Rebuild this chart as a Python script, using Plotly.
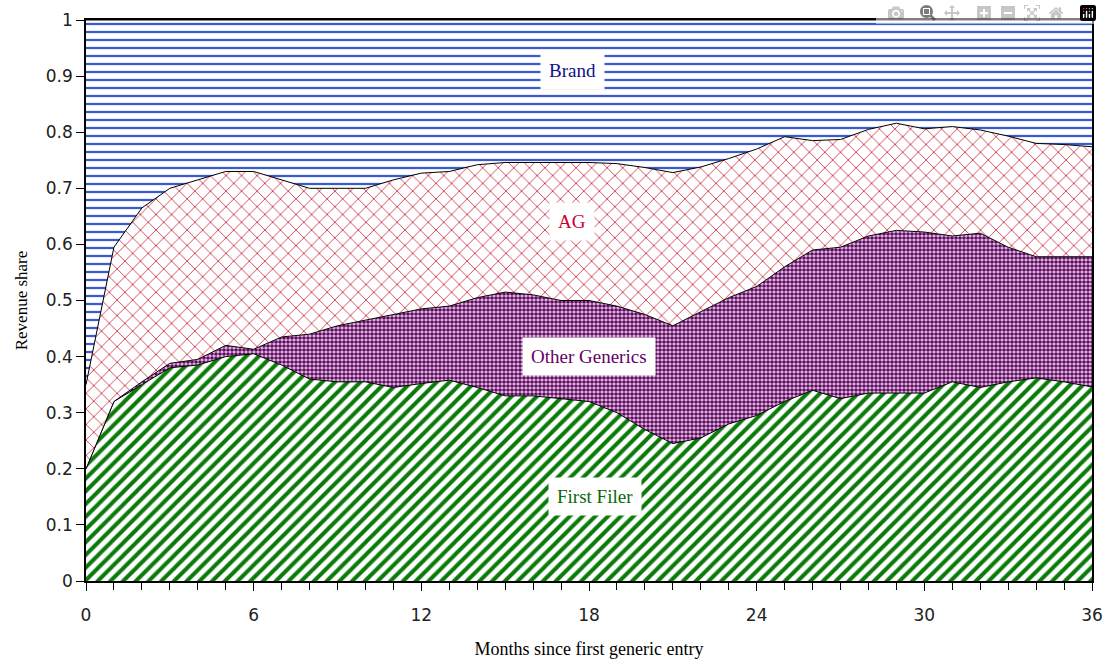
import plotly.graph_objects as go

months = list(range(37))

first_filer = [0.20, 0.32, 0.35, 0.38, 0.385, 0.40, 0.405, 0.385, 0.36, 0.355,
               0.355, 0.345, 0.352, 0.358, 0.345, 0.33, 0.33, 0.325, 0.32, 0.30,
               0.27, 0.245, 0.255, 0.28, 0.295, 0.32, 0.34, 0.325, 0.335, 0.335,
               0.335, 0.355, 0.345, 0.355, 0.362, 0.355, 0.346]
other_generics = [0.0, 0.0, 0.005, 0.008, 0.01, 0.02, 0.008, 0.05, 0.08, 0.10,
                  0.11, 0.13, 0.133, 0.132, 0.16, 0.185, 0.18, 0.175, 0.18, 0.19,
                  0.205, 0.21, 0.225, 0.225, 0.23, 0.24, 0.25, 0.27, 0.28, 0.29,
                  0.287, 0.26, 0.275, 0.24, 0.216, 0.223, 0.232]
ag = [0.15, 0.275, 0.31, 0.312, 0.32, 0.31, 0.317, 0.28, 0.26, 0.245,
      0.235, 0.24, 0.242, 0.24, 0.237, 0.231, 0.236, 0.246, 0.246, 0.254,
      0.262, 0.273, 0.258, 0.248, 0.245, 0.232, 0.195, 0.192, 0.19, 0.191,
      0.184, 0.195, 0.184, 0.198, 0.202, 0.2, 0.196]
brand = [0.65, 0.405, 0.335, 0.30, 0.285, 0.27, 0.27, 0.285, 0.30, 0.30,
         0.30, 0.285, 0.273, 0.27, 0.258, 0.254, 0.254, 0.254, 0.254, 0.256,
         0.263, 0.272, 0.262, 0.247, 0.23, 0.208, 0.215, 0.213, 0.195, 0.184,
         0.194, 0.19, 0.196, 0.207, 0.22, 0.222, 0.226]

x_ticks = [0, 6, 12, 18, 24, 30, 36]
y_ticks = [0, 0.1, 0.2, 0.3, 0.4, 0.5, 0.6, 0.7, 0.8, 0.9, 1]
y_ticktext = ["0", "0.1", "0.2", "0.3", "0.4", "0.5", "0.6", "0.7", "0.8", "0.9", "1"]

fig = go.Figure()

# bottom to top, stacked
layers = [
    ("First Filer", first_filer, dict(shape="/", fgcolor="#0b7a0b", bgcolor="white",
                                      size=9, solidity=0.45, fgopacity=1)),
    ("Other Generics", other_generics, dict(shape=".", fgcolor="#5a0e5a", bgcolor="#f0c4f0",
                                            size=4, solidity=0.65, fgopacity=1)),
    ("AG", ag, dict(shape="x", fgcolor="#cc3344", bgcolor="white",
                    size=11, solidity=0.15, fgopacity=1)),
    ("Brand", brand, dict(shape="-", fgcolor="#3a5bd0", bgcolor="white",
                          size=8, solidity=0.28, fgopacity=1)),
]
for name, vals, pat in layers:
    fig.add_trace(go.Scatter(
        x=months, y=vals, name=name, mode="lines",
        stackgroup="one",
        line=dict(color="black", width=1),
        fillpattern=pat,
        fillcolor="white",
        hoverinfo="skip",
    ))

labels = [
    ("Brand", 17.4, 0.91, "#10108a"),
    ("AG", 17.4, 0.64, "#cc0033"),
    ("Other Generics", 18.0, 0.40, "#660066"),
    ("First Filer", 18.2, 0.15, "#0a6a0a"),
]
for txt, lx, ly, col in labels:
    fig.add_annotation(
        x=lx, y=ly, text=txt, showarrow=False,
        font=dict(family="Liberation Serif", size=19, color=col),
        bgcolor="white", borderpad=8,
    )

fig.update_layout(
    width=1102, height=664,
    margin=dict(l=86, r=10, t=20, b=83),
    paper_bgcolor="white", plot_bgcolor="white",
    showlegend=False,
    font=dict(family="DejaVu Sans", color="#222"),
)
fig.update_xaxes(
    range=[0, 36], tickvals=x_ticks, ticks="outside", ticklen=8,
    tickcolor="black", tickfont=dict(size=17, family="DejaVu Sans"),
    minor=dict(dtick=1, ticks="outside", ticklen=7, tickcolor="black"),
    showline=True, linecolor="black", linewidth=1.5, mirror=True,
    showgrid=False, zeroline=False, ticklabelstandoff=10, automargin=False,
    ticklabeloverflow="allow",
    title=dict(text="Months since first generic entry",
               font=dict(family="Liberation Serif", size=18, color="black"),
               standoff=18),
)
fig.update_yaxes(
    range=[0, 1], tickvals=y_ticks, ticktext=y_ticktext,
    ticks="outside", ticklen=8, tickcolor="black",
    tickfont=dict(size=17, family="DejaVu Sans"),
    showline=True, linecolor="black", linewidth=1.5, mirror=True,
    showgrid=False, zeroline=False, automargin=False,
    title=dict(text="Revenue share",
               font=dict(family="Liberation Serif", size=17, color="black"),
               standoff=14),
)

# drop the browser's default 8px body margin so the full figure fits the window
fig.write_html("out.html", post_script="document.body.style.margin='0';")
